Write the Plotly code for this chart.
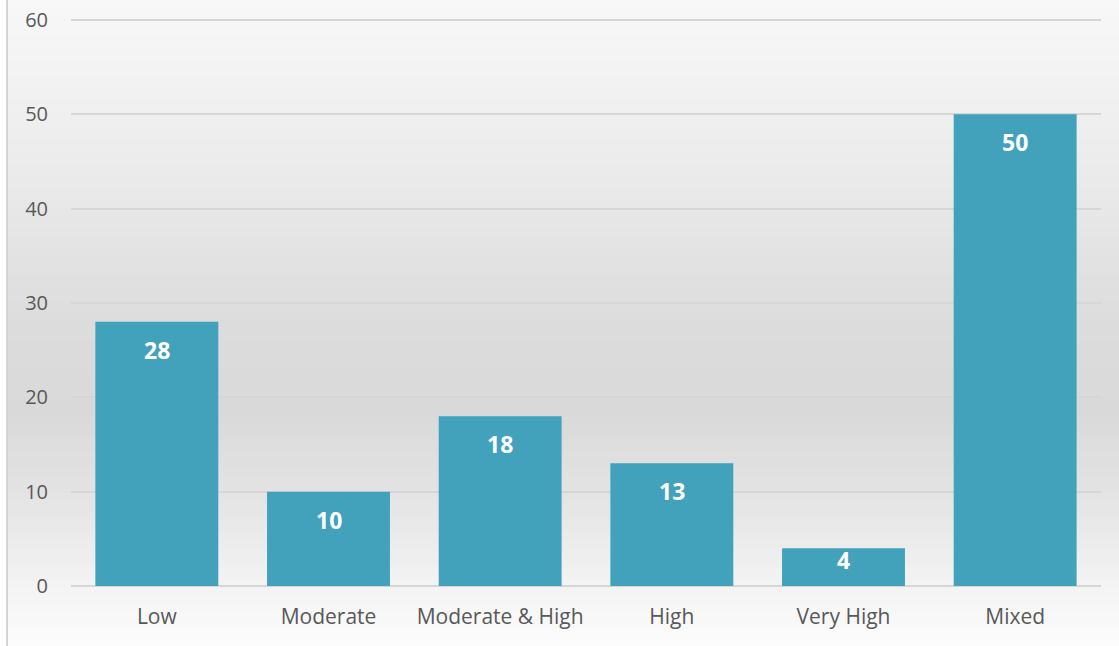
import plotly.graph_objects as go

categories = ["Low", "Moderate", "Moderate & High", "High", "Very High", "Mixed"]
values = [28, 10, 18, 13, 4, 50]
y_ticks = [0, 10, 20, 30, 40, 50, 60]

W, H = 1119, 646
L, R, T, B = 71, 18, 16, 60
plot_w = W - L - R
plot_h = H - T - B
ymax = 60 * plot_h / 566.0
px_per_unit = plot_h / ymax

fig = go.Figure()
fig.add_trace(go.Bar(
    x=categories, y=values,
    marker=dict(color="#42a1bb", line=dict(width=0)),
    width=0.716,
    hoverinfo="x+y",
))

for c, v in zip(categories, values):
    shift = min(28, v * px_per_unit * 0.3)
    fig.add_annotation(x=c, y=v, yshift=-shift, text=f"<b>{v}</b>", showarrow=False,
                       font=dict(family="Open Sans", size=23, color="white"),
                       xanchor="center", yanchor="middle")

stops = [(0.0, 248), (0.25, 236), (0.5, 220), (0.64, 217), (0.78, 229), (0.9, 243), (1.0, 252)]
def gray_at(t):
    for (t0, g0), (t1, g1) in zip(stops[:-1], stops[1:]):
        if t0 <= t <= t1:
            f = (t - t0) / (t1 - t0) if t1 > t0 else 0
            return g0 + (g1 - g0) * f
    return stops[-1][1]

n = 110
x0p = (8 - L) / plot_w
x1p = (W - L) / plot_w
for i in range(n):
    ytop_px = H * i / n
    ybot_px = H * (i + 1) / n + 0.8
    g = int(round(gray_at((i + 0.5) / n)))
    fig.add_shape(type="rect", xref="paper", yref="paper",
                  x0=x0p, x1=x1p,
                  y0=(H - B - ybot_px) / plot_h, y1=(H - B - ytop_px) / plot_h,
                  fillcolor=f"rgb({g},{g},{g})", line=dict(width=0), layer="below")

fig.add_shape(type="line", xref="paper", yref="paper",
              x0=(7 - L) / plot_w, x1=(7 - L) / plot_w,
              y0=(H - B - H) / plot_h, y1=(H - B) / plot_h,
              line=dict(color="#d4d4d4", width=2), layer="above")

fig.update_layout(
    width=W, height=H,
    margin=dict(l=L, r=R, t=T, b=B, pad=0, autoexpand=False),
    paper_bgcolor="white",
    plot_bgcolor="rgba(0,0,0,0)",
    showlegend=False,
    bargap=0.284,
    font=dict(family="Open Sans", size=20, color="#595959"),
)
fig.update_yaxes(range=[0, ymax], tickvals=y_ticks, showgrid=True, automargin=False,
                 gridcolor="#d6d6d6", gridwidth=1.5, zeroline=True,
                 zerolinecolor="#d6d6d6", zerolinewidth=1.5,
                 showline=False, ticks="", ticklabelstandoff=22,
                 tickfont=dict(family="Open Sans", size=20, color="#595959"))
fig.update_xaxes(showgrid=False, showline=False, ticks="", ticklabelstandoff=16, automargin=False,
                 tickfont=dict(family="Open Sans", size=21, color="#595959"))

fig.write_html("out.html", config={"displayModeBar": False},
               post_script="document.body.style.margin='0';document.body.style.overflow='hidden';")
